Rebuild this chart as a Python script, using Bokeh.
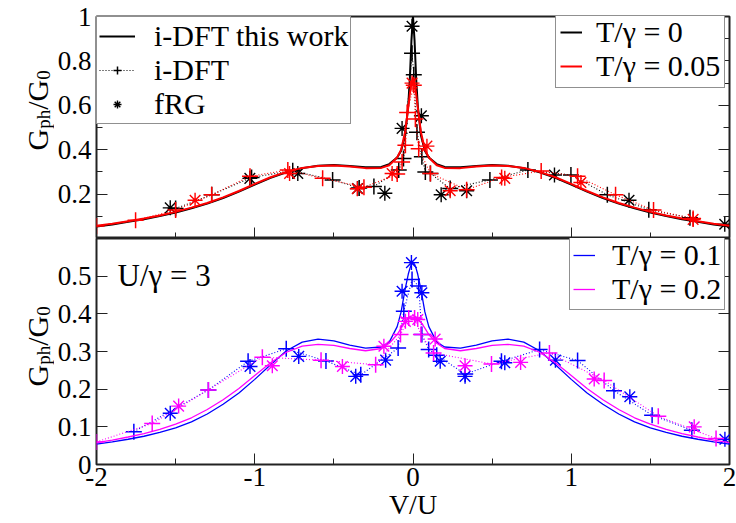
from math import pi
from bokeh.plotting import figure
from bokeh.layouts import column, row
from bokeh.models import (Legend, LegendItem, Label, LinearAxis, FixedTicker,
                          CustomLabelingPolicy)
from bokeh.embed import file_html
from bokeh.resources import INLINE

# ---------------- data ----------------
half_x = [2.0, 1.9, 1.8, 1.7, 1.6, 1.5, 1.4, 1.3, 1.2, 1.1, 1.0, 0.9, 0.8, 0.7,
          0.6, 0.5, 0.4, 0.3, 0.2, 0.15, 0.1, 0.075, 0.05, 0.03, 0.02, 0.01, 0.0]
curve_x = [-v for v in half_x] + half_x[-2::-1]

half_T000 = [0.054, 0.063, 0.075, 0.087, 0.101, 0.117, 0.136, 0.157, 0.182, 0.211,
             0.243, 0.273, 0.298, 0.317, 0.328, 0.331, 0.327, 0.321, 0.322, 0.335,
             0.365, 0.395, 0.465, 0.60, 0.72, 0.89, 1.0]
half_T005 = [0.057, 0.066, 0.078, 0.090, 0.104, 0.120, 0.139, 0.160, 0.185, 0.214,
             0.246, 0.276, 0.300, 0.318, 0.327, 0.329, 0.324, 0.317, 0.318, 0.330,
             0.365, 0.400, 0.480, 0.590, 0.650, 0.700, 0.725]
half_T010 = [0.054, 0.060, 0.067, 0.075, 0.085, 0.097, 0.113, 0.134, 0.160, 0.190,
             0.226, 0.265, 0.302, 0.325, 0.333, 0.328, 0.317, 0.309, 0.312, 0.325,
             0.366, 0.405, 0.465, 0.505, 0.520, 0.532, 0.536]
half_T020 = [0.058, 0.065, 0.073, 0.082, 0.093, 0.107, 0.124, 0.146, 0.172, 0.202,
             0.236, 0.270, 0.298, 0.314, 0.319, 0.316, 0.308, 0.302, 0.308, 0.322,
             0.345, 0.362, 0.378, 0.388, 0.392, 0.394, 0.395]

def mirror(h):
    return h + h[-2::-1]

G_T000 = mirror(half_T000)
G_T005 = mirror(half_T005)
G_T010 = mirror(half_T010)
G_T020 = mirror(half_T020)

idft_T000_x = [-1.50, -1.272, -1.02, -0.76, -0.508, -0.34, -0.247, -0.09, -0.06, -0.006,
               0.005, 0.025, 0.056, 0.078, 0.11, 0.235, 0.486, 0.726, 0.998, 1.228, 1.49, 1.75]
idft_T000_y = [0.135, 0.197, 0.275, 0.305, 0.264, 0.228, 0.234, 0.308, 0.36, 0.834,
               0.738, 0.479, 0.368, 0.30, 0.293, 0.225, 0.264, 0.308, 0.286, 0.197, 0.13, 0.093]
idft_T005_x = [-2.0, -1.753, -1.50, -1.272, -1.03, -0.791, -0.571, -0.31, -0.10, -0.069,
               -0.048, -0.037, 0.005, 0.015, 0.036, 0.11, 0.339, 0.56, 0.81, 1.04, 1.28,
               1.52, 1.77]
idft_T005_y = [0.056, 0.082, 0.128, 0.197, 0.28, 0.308, 0.271, 0.231, 0.29, 0.345,
               0.42, 0.568, 0.69, 0.538, 0.404, 0.293, 0.22, 0.275, 0.304, 0.28, 0.197,
               0.128, 0.09]
frg_T000_x = [-1.534, -1.031, -0.728, -0.35, -0.178, -0.069, -0.006, 0.053, 0.178,
              0.339, 0.894, 1.365, 1.97]
frg_T000_y = [0.138, 0.271, 0.293, 0.225, 0.204, 0.496, 0.956, 0.553, 0.197,
              0.215, 0.286, 0.172, 0.064]
frg_T005_x = [-1.377, -0.78, -0.352, -0.132, -0.006, 0.088, 0.235, 0.58, 1.061, 1.77]
frg_T005_y = [0.172, 0.293, 0.224, 0.293, 0.70, 0.416, 0.215, 0.271, 0.252, 0.086]

idft_T010_x = [-1.764, -1.293, -1.042, -0.801, -0.55, -0.33, -0.094, -0.058, -0.006,
               0.036, 0.056, 0.099, 0.15, 0.33, 0.559, 0.80, 1.04, 1.27, 1.511, 1.762]
idft_T010_y = [0.087, 0.198, 0.274, 0.307, 0.275, 0.238, 0.309, 0.407, 0.491,
               0.474, 0.345, 0.305, 0.29, 0.24, 0.274, 0.305, 0.276, 0.196, 0.131, 0.091]
idft_T020_x = [-2.0, -1.648, -1.293, -0.952, -0.581, -0.236, -0.079, -0.027, 0.01,
               0.05, 0.13, 0.496, 0.862, 1.208, 1.55, 1.915]
idft_T020_y = [0.06, 0.109, 0.198, 0.285, 0.277, 0.265, 0.345, 0.389, 0.389,
               0.345, 0.296, 0.267, 0.296, 0.223, 0.128, 0.069]
frg_T010_x = [-1.534, -1.03, -0.722, -0.362, -0.173, -0.069, -0.01, 0.056, 0.172,
              0.329, 0.58, 0.90, 1.37, 1.971]
frg_T010_y = [0.136, 0.26, 0.287, 0.234, 0.277, 0.46, 0.536, 0.456, 0.274,
              0.234, 0.27, 0.277, 0.18, 0.067]
frg_T020_x = [-1.481, -0.889, -0.446, -0.184, -0.048, 0.03, 0.14, 0.329, 0.68, 1.145, 1.777]
frg_T020_y = [0.155, 0.262, 0.26, 0.314, 0.38, 0.385, 0.333, 0.262, 0.271, 0.227, 0.1]

x_ticks = [-2, -1, 0, 1, 2]
x_minor = [-1.5, -0.5, 0.5, 1.5]
top_yticks = [0.2, 0.4, 0.6, 0.8, 1.0]
top_yminor = [0.1, 0.3, 0.5, 0.7, 0.9]
bot_yticks = [0.0, 0.1, 0.2, 0.3, 0.4, 0.5]

FONT = "Liberation Serif"
LW = 54          # width of the y-label strip
FW = 633         # frame width
RB = 736 - LW - (96 - LW) - FW   # right border

NO_LABELS = """
const keep = [];
for (const i of indices) keep.push(i);
for (const i of keep) indices.unset(i);
return indices;
"""

def hide_labels(ax):
    ax.major_label_policy = CustomLabelingPolicy(code=NO_LABELS)
    ax.major_label_text_font_size = "0px"
    ax.major_label_standoff = 0

# ---------------- helpers ----------------
def base_fig(y_end, yt, ym, frame_h, top_border, bottom_border):
    p = figure(frame_width=FW, frame_height=frame_h, x_range=(-2, 2), y_range=(0, y_end),
               output_backend="svg", toolbar_location=None,
               min_border_left=96 - LW, min_border_right=RB,
               min_border_top=top_border, min_border_bottom=bottom_border)
    p.grid.visible = False
    p.outline_line_color = "#222222"
    p.outline_line_width = 2
    ya = p.yaxis[0]
    ya.ticker = FixedTicker(ticks=yt, minor_ticks=ym)
    ya.major_label_overrides = {v: ("1" if v == 1.0 else ("0" if v == 0 else f"{v:.1f}")) for v in yt}
    ya.major_label_text_font = FONT
    ya.major_label_text_font_size = "27px"
    ya.major_label_text_color = "black"
    ya.major_label_standoff = 5
    ya.major_tick_in = 11
    ya.major_tick_out = 0
    ya.minor_tick_in = 6
    ya.minor_tick_out = 0
    ya.axis_line_color = None
    ya.major_tick_line_color = "#222222"
    ya.minor_tick_line_color = "#222222"
    ra = LinearAxis(ticker=FixedTicker(ticks=yt, minor_ticks=ym),
                    major_tick_in=11, major_tick_out=0, minor_tick_in=6, minor_tick_out=0,
                    axis_line_color=None, major_tick_line_color="#222222",
                    minor_tick_line_color="#222222")
    hide_labels(ra)
    p.add_layout(ra, "right")
    xa = p.xaxis[0]
    xa.ticker = FixedTicker(ticks=x_ticks, minor_ticks=x_minor)
    xa.major_label_overrides = {v: str(v) for v in x_ticks}
    xa.major_label_text_font = FONT
    xa.major_label_text_color = "black"
    xa.major_tick_in = 11
    xa.major_tick_out = 0
    xa.minor_tick_in = 6
    xa.minor_tick_out = 0
    xa.axis_line_color = None
    xa.major_tick_line_color = "#222222"
    xa.minor_tick_line_color = "#222222"
    return p

def label_strip(total_h, frame_h, frame_top, y0):
    s = figure(frame_width=LW, frame_height=frame_h, x_range=(0, LW), y_range=(0, frame_h),
               output_backend="svg", toolbar_location=None,
               min_border_left=0, min_border_right=0, min_border_top=frame_top,
               min_border_bottom=total_h - frame_h - frame_top)
    s.axis.visible = False
    s.grid.visible = False
    s.outline_line_color = None
    parts = [("G", 30, 0, 21.7), ("ph", 19, 6, 19.0), ("/", 30, 0, 8.3),
             ("G", 30, 0, 21.7), ("0", 19, 6, 9.5)]
    y = y0
    for txt, fs, dx, w in parts:
        s.add_layout(Label(x=37 + dx, y=y, x_units="screen", y_units="screen", text=txt,
                           angle=pi / 2, text_font=FONT, text_font_size=f"{fs}px",
                           text_align="left", text_baseline="alphabetic", text_color="black"))
        y += w
    return s

def series(p, color, cx, cy, ix, iy, fx, fy, lw):
    rl = p.line(cx, cy, line_color=color, line_width=lw)
    rd = p.line(ix, iy, line_color=color, line_width=1.1, line_dash="1 2")
    rp = p.scatter(ix, iy, marker="cross", size=16, line_color=color, line_width=1.5)
    rs = p.scatter(fx, fy, marker="asterisk", size=15, line_color=color, line_width=1.4)
    return rl, rd, rp, rs

def style_legend(lg, pad, glyph_w, standoff, spacing):
    lg.label_text_font = FONT
    lg.label_text_font_size = "30px"
    lg.label_text_color = "black"
    lg.label_height = 20
    lg.glyph_height = 20
    lg.glyph_width = glyph_w
    lg.label_standoff = standoff
    lg.spacing = spacing
    lg.padding = pad
    lg.margin = 0
    lg.border_line_color = "#222222"
    lg.border_line_width = 1.5
    lg.background_fill_color = "white"
    lg.background_fill_alpha = 1.0

# ---------------- top panel ----------------
TOP_H = 238
TOP_FT = 16
TOP_FH = TOP_H - TOP_FT
top = base_fig(1.0, top_yticks, top_yminor, TOP_FH, TOP_FT, 0)
hide_labels(top.xaxis[0])

k_l, k_d, k_p, k_s = series(top, "black", curve_x, G_T000, idft_T000_x, idft_T000_y,
                            frg_T000_x, frg_T000_y, 2)
r_l, r_d, r_p, r_s = series(top, "red", curve_x, G_T005, idft_T005_x, idft_T005_y,
                            frg_T005_x, frg_T005_y, 2)

lg1 = Legend(items=[LegendItem(label="i-DFT this work", renderers=[k_l]),
                    LegendItem(label="i-DFT", renderers=[k_d, k_p]),
                    LegendItem(label="fRG", renderers=[k_s])], location="top_left")
style_legend(lg1, 2, 36, 19, -9)
top.add_layout(lg1, "center")

lg2 = Legend(items=[LegendItem(label="T/γ = 0", renderers=[k_l]),
                    LegendItem(label="T/γ = 0.05", renderers=[r_l])],
             location=(459, TOP_FH - 72))
style_legend(lg2, 4, 22, 14, -4)
top.add_layout(lg2, "center")

# ---------------- bottom panel ----------------
BOT_H = 285
bot = base_fig(0.6, bot_yticks, [], 226, 0, BOT_H - 226)
bot.xaxis[0].major_label_text_font_size = "27px"
bot.xaxis[0].major_label_standoff = 3
bot.xaxis[0].axis_label = "V/U"
bot.xaxis[0].axis_label_text_font = FONT
bot.xaxis[0].axis_label_text_font_style = "normal"
bot.xaxis[0].axis_label_text_font_size = "28px"
bot.xaxis[0].axis_label_text_color = "black"
bot.xaxis[0].axis_label_standoff = 0

b_l, b_d, b_p, b_s = series(bot, "blue", curve_x, G_T010, idft_T010_x, idft_T010_y,
                            frg_T010_x, frg_T010_y, 1.3)
m_l, m_d, m_p, m_s = series(bot, "#ff00ff", curve_x, G_T020, idft_T020_x, idft_T020_y,
                            frg_T020_x, frg_T020_y, 1.3)

lg3 = Legend(items=[LegendItem(label="T/γ = 0.1", renderers=[b_l]),
                    LegendItem(label="T/γ = 0.2", renderers=[m_l])], location=(473, 154))
style_legend(lg3, 3, 22, 17, -6)
bot.add_layout(lg3, "center")

bot.add_layout(Label(x=21, y=189, x_units="screen", y_units="screen", text="U/γ = 3",
                     text_font=FONT, text_font_size="31px", text_color="black",
                     text_baseline="alphabetic"))

strip_top = label_strip(TOP_H, TOP_FH, TOP_FT, 88)
strip_bot = label_strip(BOT_H, 226, 0, 78)

layout = column(row(strip_top, top, spacing=0), row(strip_bot, bot, spacing=0), spacing=0)
open("out.html", "w").write(file_html(layout, INLINE))
